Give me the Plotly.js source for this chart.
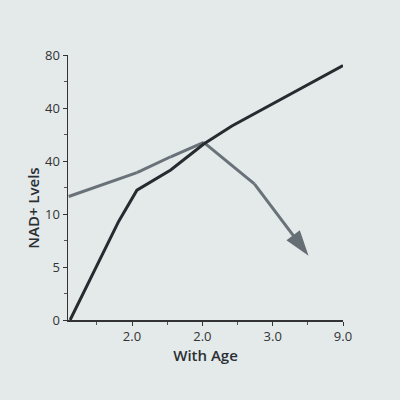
<!DOCTYPE html>
<html>
<head>
<meta charset="utf-8">
<script src="https://cdn.plot.ly/plotly-3.0.1.min.js"></script>
<style>
  html, body { margin: 0; padding: 0; background: #e4e9ea; }
  #chart { width: 400px; height: 400px; }
</style>
</head>
<body>
<div id="chart"></div>
<script>
// values (x on a 1..4 tick scale, y on a 0..5 tick scale)
const darkX = [0.12, 0.81, 1.07, 1.55, 2.02, 2.42, 4.0];
const darkY = [0, 1.86, 2.45, 2.83, 3.32, 3.66, 4.8];

const grayX = [0.1, 1.07, 1.55, 2.02, 2.74, 3.51];
const grayY = [2.33, 2.78, 3.08, 3.35, 2.57, 1.21];

const xTickVals = [1, 2, 3, 4];
const xTickText = ['2.0', '2.0', '3.0', '9.0'];
const yTickVals = [0, 1, 2, 3, 4, 5];
const yTickText = ['0', '5', '10', '40', '40', '80'];

const graySizes = grayX.map((v, i) => i === grayX.length - 1 ? 27 : 0);
const graySymbols = grayX.map((v, i) => i === grayX.length - 1 ? 'arrow' : 'circle');

const traces = [
  {
    x: grayX, y: grayY, type: 'scatter', mode: 'lines+markers',
    line: { color: '#687278', width: 3 },
    marker: {
      size: graySizes, symbol: graySymbols, angleref: 'previous',
      color: '#646e74', opacity: 1, line: { width: 0 }
    },
    hoverinfo: 'skip'
  },
  {
    x: darkX, y: darkY, type: 'scatter', mode: 'lines',
    line: { color: '#262b2f', width: 3 },
    hoverinfo: 'skip'
  }
];

const axisFont = { family: 'Open Sans, sans-serif', size: 13, color: '#333' };
const titleFont = { family: 'Open Sans, sans-serif', size: 15, color: '#2b2f33', weight: 600 };

const layout = {
  width: 400,
  height: 400,
  margin: { l: 68, r: 57, t: 55, b: 80 },
  paper_bgcolor: '#e4e9ea',
  plot_bgcolor: '#e4e9ea',
  showlegend: false,
  xaxis: {
    range: [0.09, 4.0],
    tickvals: xTickVals,
    ticktext: xTickText,
    showgrid: false,
    zeroline: false,
    showline: true,
    linecolor: '#333',
    linewidth: 1.5,
    ticks: 'outside',
    ticklen: 4,
    tickcolor: '#333',
    tickfont: axisFont,
    minor: { dtick: 0.5, tick0: 0, ticks: 'outside', ticklen: 3, tickcolor: '#555' },
    title: { text: 'With Age', font: titleFont, standoff: 6 }
  },
  yaxis: {
    range: [0, 5],
    tickvals: yTickVals,
    ticktext: yTickText,
    showgrid: false,
    zeroline: false,
    showline: true,
    linecolor: '#333',
    linewidth: 1.5,
    ticks: 'outside',
    ticklen: 4,
    tickcolor: '#333',
    tickfont: axisFont,
    minor: { dtick: 0.5, tick0: 0, ticks: 'outside', ticklen: 3, tickcolor: '#555' }
  },
  annotations: [{
    text: 'NAD+ Lvels',
    textangle: -90,
    xref: 'paper', yref: 'paper',
    x: -0.127, y: 0.42,
    xanchor: 'center', yanchor: 'middle',
    showarrow: false,
    font: titleFont
  }]
};

Plotly.newPlot('chart', traces, layout, { displayModeBar: false, staticPlot: true });
</script>
</body>
</html>
